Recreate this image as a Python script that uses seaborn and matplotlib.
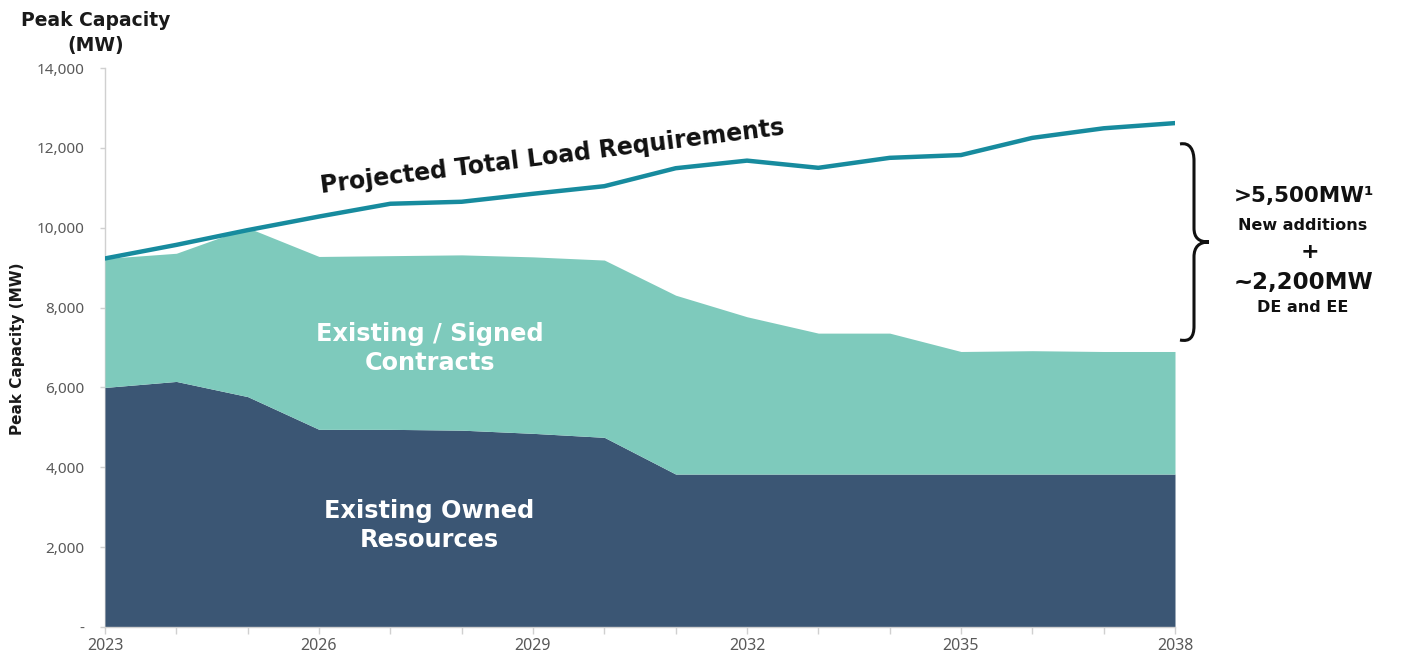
import numpy as np
import pandas as pd
import matplotlib
matplotlib.use("Agg")
import matplotlib.pyplot as plt
import seaborn as sns
from matplotlib.path import Path
from matplotlib.patches import PathPatch
from matplotlib.transforms import Affine2D

# Planning horizon
years = list(range(2023, 2039))

# Peak capacity by resource group (MW)
owned_mw = [6000, 6150, 5770, 4950, 4950, 4930, 4850, 4750,
            3830, 3830, 3830, 3830, 3830, 3830, 3830, 3830]
contracts_mw = [3230, 3210, 4230, 4330, 4350, 4390, 4420, 4440,
                4480, 3940, 3530, 3530, 3070, 3090, 3070, 3070]

# Projected total load requirement (MW)
load_mw = [9230, 9570, 9940, 10280, 10600, 10650, 10850, 11040,
           11490, 11680, 11500, 11750, 11820, 12250, 12490, 12620]

ytick_values = [0, 2000, 4000, 6000, 8000, 10000, 12000, 14000]
ytick_labels = ["-", "2,000", "4,000", "6,000", "8,000", "10,000", "12,000", "14,000"]
xtick_labeled = [2023, 2026, 2029, 2032, 2035, 2038]

DARK = "#3b5674"
TEAL = "#7ecabc"
LINE = "#178b9e"
GRID = "#d0d0d0"
TICK_TXT = "#595959"
TICK_FONT = "Noto Sans"

sns.set_theme(style="white")
plt.rcParams["font.family"] = ["DejaVu Sans"]

df = pd.DataFrame({"year": years, "owned": owned_mw,
                   "contracts": contracts_mw, "load": load_mw})

W, H = 1413, 658
fig = plt.figure(figsize=(W / 100, H / 100), dpi=100)
ax = fig.add_axes([105 / W, 31 / H, 1070 / W, 559 / H])

# Stacked capacity areas
ax.stackplot(df["year"], df["owned"], df["contracts"],
             colors=[DARK, TEAL], linewidth=0, zorder=1)

# Load requirement line
sns.lineplot(data=df, x="year", y="load", ax=ax, color=LINE,
             linewidth=3.2, zorder=3, legend=False)

ax.set_xlim(2023, 2038)
ax.set_ylim(0, 14000)
ax.set_xlabel("")
ax.set_ylabel("")

ax.set_yticks(ytick_values)
ax.set_yticklabels(ytick_labels, fontsize=11, color=TICK_TXT, family=TICK_FONT)
ax.set_xticks(years, minor=True)
ax.set_xticks(xtick_labeled)
ax.set_xticklabels([str(y) for y in xtick_labeled], fontsize=11.5,
                   color=TICK_TXT, family=TICK_FONT)
ax.tick_params(axis="x", which="both", length=5, color=GRID, width=1,
               direction="out", pad=3, bottom=True)
ax.tick_params(axis="y", length=3.6, color=GRID, width=1, pad=11, left=True)

for side in ["top", "right"]:
    ax.spines[side].set_visible(False)
for side in ["left", "bottom"]:
    ax.spines[side].set_color(GRID)
    ax.spines[side].set_linewidth(1)
ax.spines["left"].set_zorder(0)

# Pixel-based transform (origin top-left) for free annotations
px = Affine2D().scale(1 / 100, -1 / 100).translate(0, H / 100) + fig.dpi_scale_trans

fig.text(96, 20, "Peak Capacity", transform=px, ha="center", va="center",
         fontsize=13.5, fontweight="bold", color="#1a1a1a")
fig.text(96, 45, "(MW)", transform=px, ha="center", va="center",
         fontsize=13.5, fontweight="bold", color="#1a1a1a")
fig.text(18, 349, "Peak Capacity (MW)", transform=px, ha="center", va="center",
         rotation=90, fontsize=11, fontweight="bold", color="#1a1a1a")

# Series labels
ax.text(2029.27, 11780, "Projected Total Load Requirements", ha="center",
        va="center", rotation=7.2, fontsize=17, fontweight="bold",
        color="#111111", zorder=4)
ax.text(2027.55, 6970, "Existing / Signed\nContracts", ha="center", va="center",
        fontsize=17.3, fontweight="bold", color="white", linespacing=1.25,
        zorder=4)
ax.text(2027.55, 2550, "Existing Owned\nResources", ha="center", va="center",
        fontsize=17.3, fontweight="bold", color="white", linespacing=1.25,
        zorder=4)

# Curly brace spanning the capacity gap
verts = [(1180, 144), (1190, 142), (1194, 150), (1194, 161),
         (1194, 228),
         (1194, 238), (1199, 242), (1209, 242),
         (1199, 242), (1194, 247), (1194, 257),
         (1194, 326),
         (1194, 337), (1190, 342), (1180, 340)]
codes = [Path.MOVETO, Path.CURVE4, Path.CURVE4, Path.CURVE4,
         Path.LINETO,
         Path.CURVE4, Path.CURVE4, Path.CURVE4,
         Path.CURVE4, Path.CURVE4, Path.CURVE4,
         Path.LINETO,
         Path.CURVE4, Path.CURVE4, Path.CURVE4]
brace = PathPatch(Path(verts, codes), transform=px, fill=False,
                  edgecolor="#111111", linewidth=2.2, clip_on=False)
fig.add_artist(brace)

fig.text(1304, 196, ">5,500MW\u00b9", transform=px, ha="center", va="center",
         fontsize=15.5, fontweight="bold", color="#111111")
fig.text(1303, 225, "New additions", transform=px, ha="center", va="center",
         fontsize=11.5, fontweight="bold", color="#111111")
fig.text(1310, 252, "+", transform=px, ha="center", va="center",
         fontsize=16, fontweight="bold", color="#111111")
fig.text(1304, 282, "~2,200MW", transform=px, ha="center", va="center",
         fontsize=16.5, fontweight="bold", color="#111111")
fig.text(1303, 307, "DE and EE", transform=px, ha="center", va="center",
         fontsize=11.5, fontweight="bold", color="#111111")

fig.savefig("out.png", dpi=100, facecolor="white")
